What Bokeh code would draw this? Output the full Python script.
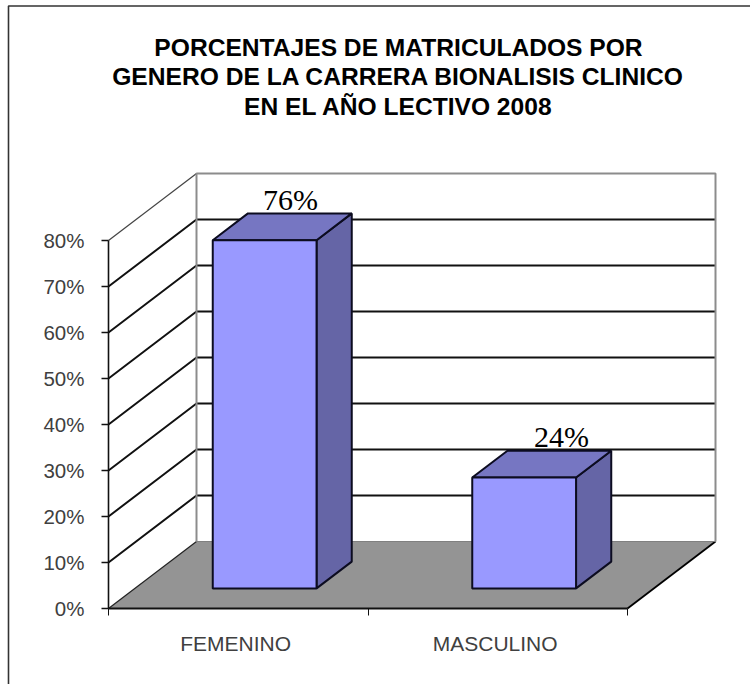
from bokeh.plotting import figure
from bokeh.models import Range1d, FixedTicker, PrintfTickFormatter, Label
from bokeh.core.properties import value
from bokeh.embed import file_html
from bokeh.resources import INLINE

# ---- data ----
title_lines = ["PORCENTAJES DE MATRICULADOS POR",
               "GENERO DE LA CARRERA BIONALISIS CLINICO",
               "EN EL AÑO LECTIVO 2008"]
categories = ["FEMENINO", "MASCULINO"]
bar_values = [75.7, 24.1]
bar_labels = ["76%", "24%"]
y_ticks = [0, 10, 20, 30, 40, 50, 60, 70, 80]

# ---- chart geometry (pixels of the page) ----
W, H = 750, 684
X0, Y0 = 108, 608          # origin of the front plane
PX_PER_CAT, PX_PER_PCT = 259.5, 4.6
DEPTH_PX_X, DEPTH_PX_Y = 88, 67
BAR_W = 0.40
BAR_FRONT, BAR_DEPTH = 0.30, 0.40
DX = DEPTH_PX_X / PX_PER_CAT
DY = DEPTH_PX_Y / PX_PER_PCT
N = len(categories)

def xp(px):
    return (px - X0) / PX_PER_CAT

def yp(py):
    return (Y0 - py) / PX_PER_PCT

p = figure(width=W, height=H, output_backend="svg", toolbar_location=None,
           x_range=Range1d(xp(0), xp(W)), y_range=Range1d(yp(H), yp(0)),
           min_border=0, outline_line_color=None,
           background_fill_color="white", border_fill_color="white")
p.grid.visible = False

TOP = y_ticks[-1]

# floor
p.patch([0, N, N + DX, DX], [0, 0, DY, DY], fill_color="#949494", line_color=None)
p.line([N, N + DX], [0, DY], line_color="black", line_width=1.8)
p.line([0, DX], [0, DY], line_color="#222222", line_width=1.2)

# walls: gridlines on the side and back
grid = y_ticks[1:-1]
p.multi_line([[0, DX, N + DX] for _ in grid], [[t, t + DY, t + DY] for t in grid],
             line_color="#111111", line_width=2)
p.line([0, DX], [TOP, TOP + DY], line_color="#444444", line_width=1.2)
p.line([DX, DX, N + DX, N + DX], [DY, TOP + DY, TOP + DY, DY],
       line_color="#8c8c8c", line_width=2)
p.line([DX, N + DX], [DY, DY], line_color="#808080", line_width=1.2)

# data labels (drawn before the bars, which overlap their lower edge)
label_px = [(290, 199), (561, 436)]
for txt, (lx, ly) in zip(bar_labels, label_px):
    p.text([xp(lx)], [yp(ly)], text=[txt], text_font=value("Liberation Serif"),
           text_font_size="30px", text_color="black", text_align="center",
           text_baseline="alphabetic")

# 3D bars
for i, v in enumerate(bar_values):
    x0 = i + 0.5 - BAR_W / 2 + BAR_FRONT * DX
    x1 = x0 + BAR_W
    y0 = BAR_FRONT * DY
    y1 = y0 + v
    dx, dy = BAR_DEPTH * DX, BAR_DEPTH * DY
    p.patch([x1, x1 + dx, x1 + dx, x1], [y0, y0 + dy, y1 + dy, y1],
            fill_color="#6565A6", line_color="#0c0c20", line_width=2)
    p.patch([x0, x0 + dx, x1 + dx, x1], [y1, y1 + dy, y1 + dy, y1],
            fill_color="#7676C2", line_color="#0c0c20", line_width=2)
    p.patch([x0, x1, x1, x0], [y0, y0, y1, y1],
            fill_color="#9999FF", line_color="#0c0c20", line_width=2)

# axes
ya = p.yaxis[0]
ya.fixed_location = 0
ya.bounds = (0, TOP)
ya.ticker = FixedTicker(ticks=y_ticks)
ya.formatter = PrintfTickFormatter(format="%d%%")
ya.major_tick_out = 7
ya.major_tick_in = 0
ya.major_label_standoff = 17
ya.major_label_text_font = "Liberation Sans"
ya.major_label_text_font_size = "20.5px"
ya.major_label_text_color = "#404040"
ya.axis_line_color = "#111111"
ya.axis_line_width = 1.6
ya.major_tick_line_color = "#111111"
ya.major_tick_line_width = 1.4

xa = p.xaxis[0]
xa.fixed_location = 0
xa.bounds = (0, N)
label_pos = [i + 0.49 for i in range(N)]
xa.ticker = FixedTicker(ticks=label_pos, minor_ticks=list(range(N + 1)))
xa.major_label_overrides = dict(zip(label_pos, categories))
xa.major_tick_line_color = None
xa.major_tick_out = 0
xa.major_tick_in = 0
xa.minor_tick_out = 7
xa.minor_tick_in = 0
xa.minor_tick_line_color = "#111111"
xa.major_label_standoff = 16
xa.major_label_text_font = "Liberation Sans"
xa.major_label_text_font_size = "21px"
xa.major_label_text_color = "#404040"
xa.axis_line_color = "#111111"
xa.axis_line_width = 2

# title
for line, py in zip(title_lines, (47, 76, 105.5)):
    p.add_layout(Label(x=398, y=H - py, x_units="screen", y_units="screen", text=line,
                       text_font="Liberation Sans", text_font_style="bold",
                       text_font_size="24.6px", text_color="black",
                       text_align="center", text_baseline="middle"))

# chart frame (left and top edges)
p.line([xp(8), xp(8), xp(W)], [yp(H), yp(5.5), yp(5.5)], line_color="#333333", line_width=1.6)

open("out.html", "w").write(file_html(p, INLINE))
